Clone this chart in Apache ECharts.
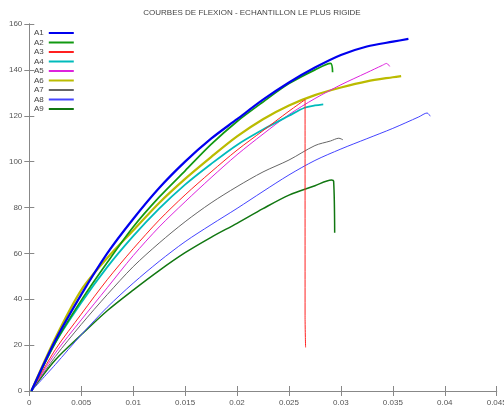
<!DOCTYPE html>
<html>
<head>
<meta charset="utf-8">
<script src="https://cdn.jsdelivr.net/npm/echarts@6/dist/echarts.min.js"></script>
<style>
html,body{margin:0;padding:0;background:#fff;}
#chart{width:504px;height:412px;}
</style>
</head>
<body>
<div id="chart"></div>
<script>
const titleText = 'COURBES DE FLEXION - ECHANTILLON LE PLUS RIGIDE';
const seriesNames = ['A1','A2','A3','A4','A5','A6','A7','A8','A9'];
const xTicks = [0,0.005,0.01,0.015,0.02,0.025,0.03,0.035,0.04,0.045];
const yTicks = [0,20,40,60,80,100,120,140,160];

const A1 = [[0.0002,0],[0.0025,22],[0.005,42],[0.0075,60],[0.01,75],[0.0125,88.5],[0.015,100],[0.0175,110],[0.02,118.5],[0.0225,127],[0.025,134.5],[0.0275,141],[0.03,146.5],[0.0325,150.2],[0.035,152.3],[0.0365,153.5]];
const A2 = [[0.0002,0],[0.0025,21],[0.005,39.5],[0.0075,56],[0.01,71.5],[0.0125,84.5],[0.015,96],[0.0175,107.5],[0.02,117.5],[0.0225,126],[0.025,134],[0.0275,140],[0.029,142.8],[0.0292,139]];
const A3 = [[0.0002,0],[0.0025,18],[0.005,33.5],[0.0075,48.5],[0.01,62],[0.0125,74.5],[0.015,85.5],[0.0175,95.5],[0.02,105],[0.0225,113.5],[0.025,122],[0.02655,127],[0.02655,33],[0.0266,19]];
const A4 = [[0.0002,0],[0.0025,21],[0.005,38.5],[0.0075,54],[0.01,67.5],[0.0125,79.5],[0.015,90],[0.0175,99],[0.02,107.3],[0.0225,114],[0.025,120],[0.0265,123.5],[0.0275,124.5],[0.0283,125]];
const A5 = [[0.0002,0],[0.0025,16.5],[0.005,31],[0.0075,45],[0.01,59],[0.0125,71.5],[0.015,82.5],[0.0175,93],[0.02,103],[0.0225,112],[0.025,120.5],[0.0275,127.5],[0.03,133.5],[0.0325,138.8],[0.034,142],[0.0344,142.8],[0.0347,141.5]];
const A6 = [[0.0002,0],[0.0025,23],[0.005,44],[0.0075,58],[0.01,70],[0.0125,82],[0.015,92.5],[0.0175,102],[0.02,111],[0.0225,118.5],[0.025,124.5],[0.0275,129],[0.03,132.3],[0.0325,135],[0.035,136.8],[0.0358,137.3]];
const A7 = [[0.0002,0],[0.0025,15],[0.005,29],[0.0075,42],[0.01,54.2],[0.0125,64.5],[0.015,73.8],[0.0175,82],[0.02,89.1],[0.0225,95.5],[0.025,100.7],[0.0275,107],[0.029,109],[0.0298,110.2],[0.0302,109.5]];
const A8 = [[0.0002,0],[0.0025,11.5],[0.005,24.5],[0.0075,36.5],[0.01,47],[0.0125,56.5],[0.015,65.1],[0.0175,72.5],[0.02,79.6],[0.0225,87],[0.025,94.2],[0.0275,100.5],[0.03,105.5],[0.0325,110],[0.035,114.5],[0.0375,119.5],[0.0383,121.2],[0.0386,119.8]];
const A9 = [[0.0002,0],[0.0025,13.5],[0.005,24.5],[0.0075,35],[0.01,44],[0.0125,52.5],[0.015,60.3],[0.0175,67],[0.02,73.1],[0.0225,79.5],[0.025,85.4],[0.0275,89.5],[0.0291,92],[0.0293,91.5],[0.0294,69]];

const seriesData = [A1,A2,A3,A4,A5,A6,A7,A8,A9];
const colors = ['#0000ee','#119911','#ff2020','#00bbbb','#dd22dd','#bbbb00','#666666','#4444ff','#117711'];
const widths = [2.2,1.7,1,1.8,1,2.2,1,1,1.5];

const chart = echarts.init(document.getElementById('chart'));
const labelFont = {fontFamily:'Liberation Sans', fontSize:8, color:'#555'};
const fmt = v => String(+(+v).toFixed(3));

chart.setOption({
  animation:false,
  backgroundColor:'#fff',
  title:{text:titleText,left:'center',top:4,textStyle:{fontFamily:'Liberation Sans',fontSize:8,fontWeight:'normal',color:'#444'}},
  legend:{
    data:seriesNames, orient:'vertical', left:34, top:29, align:'right',
    itemWidth:25, itemHeight:8, itemGap:1.5, padding:0, itemTextGap:6,
    itemStyle:{opacity:0},
    textStyle:{fontFamily:'Liberation Sans',fontSize:8,color:'#444'}
  },
  grid:{left:29.3,right:7.3,top:24,bottom:21,containLabel:false,outerBoundsMode:'none',show:false},
  xAxis:[
    {type:'value',min:0,max:0.045,interval:0.005,position:'bottom',
     axisLine:{show:true,lineStyle:{color:'#888',width:1}},
     axisTick:{show:true,inside:true,length:5,lineStyle:{color:'#888'}},
     axisLabel:{...labelFont,margin:8,formatter:fmt,showMaxLabel:true},
     splitLine:{show:false}},
    {type:'value',min:0,max:0.045,interval:0.005,position:'top',
     axisLine:{show:true,lineStyle:{color:'#888',width:1}},
     axisTick:{show:true,inside:true,length:5,lineStyle:{color:'#888'}},
     axisLabel:{show:false},splitLine:{show:false}}
  ],
  yAxis:[
    {type:'value',min:0,max:160,interval:20,position:'left',
     axisLine:{show:true,lineStyle:{color:'#888',width:1}},
     axisTick:{show:true,inside:true,length:5,lineStyle:{color:'#888'}},
     axisLabel:{...labelFont,margin:7},
     splitLine:{show:false}},
    {type:'value',min:0,max:160,interval:20,position:'right',
     axisLine:{show:true,lineStyle:{color:'#888',width:1}},
     axisTick:{show:true,inside:true,length:5,lineStyle:{color:'#888'}},
     axisLabel:{show:false},splitLine:{show:false}}
  ],
  series: seriesNames.map((n,i)=>({
    name:n, type:'line', data:seriesData[i], xAxisIndex:0, yAxisIndex:0,
    showSymbol:false, symbol:'none', smooth:0.3,
    lineStyle:{color:colors[i],width:widths[i]},
    itemStyle:{color:colors[i]}, z:10-i
  }))
});
</script>
</body>
</html>
